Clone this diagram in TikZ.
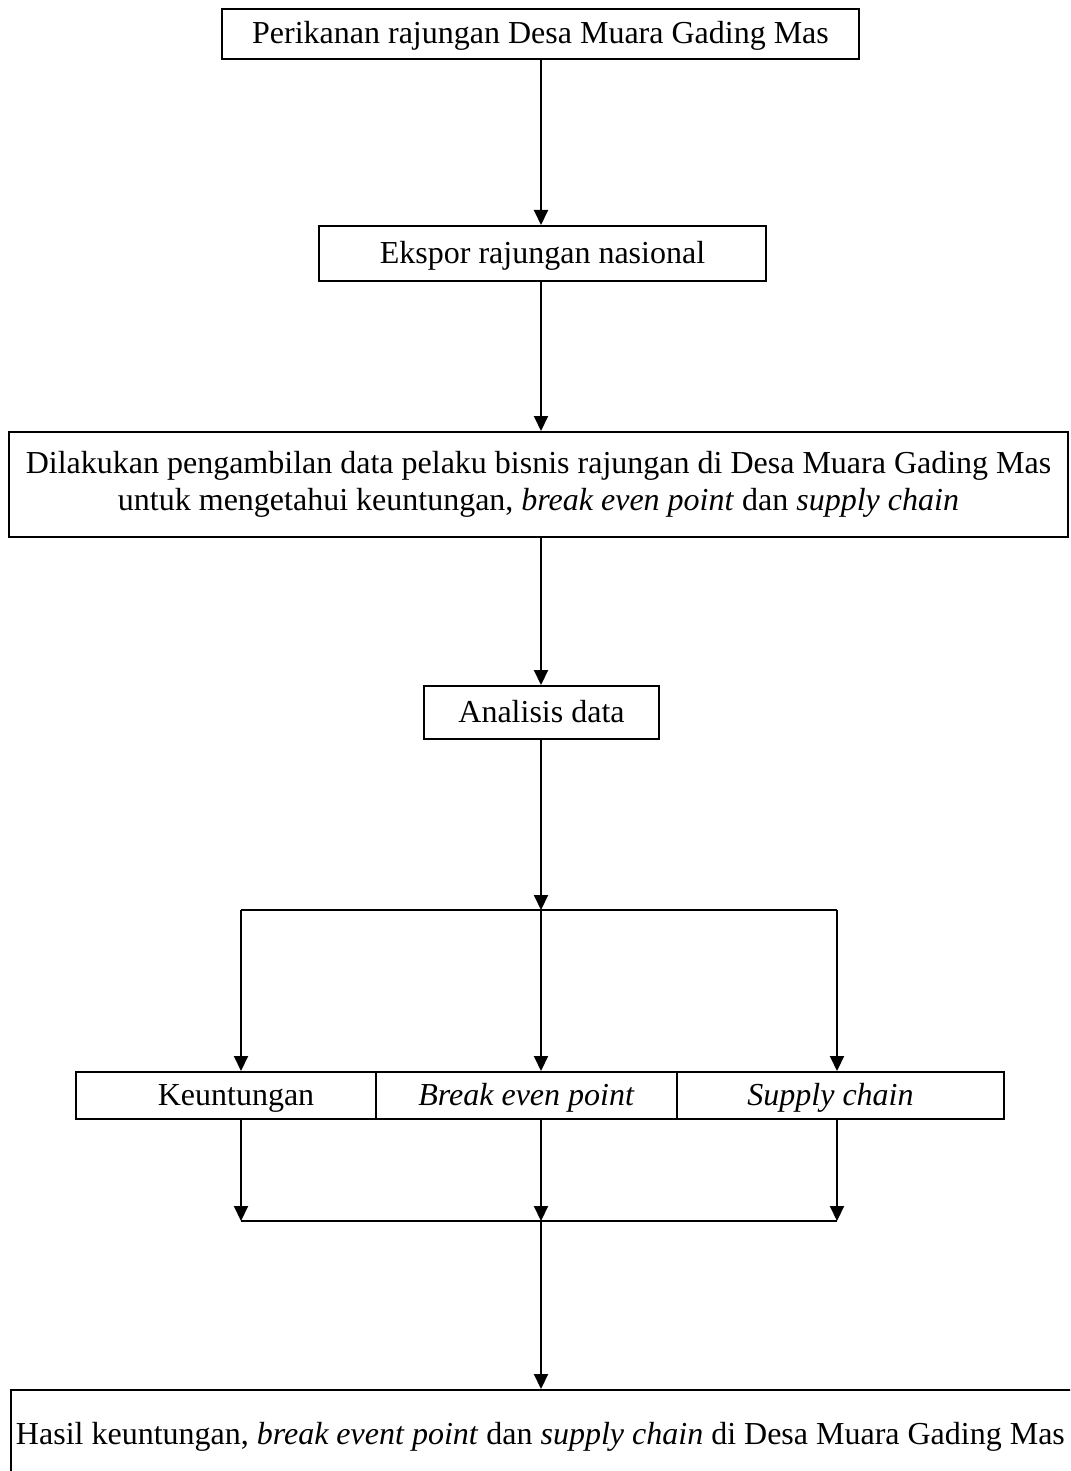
\documentclass[tikz,border=0pt]{standalone}
\usepackage{fontspec}
\setmainfont{Liberation Serif}
\usetikzlibrary{arrows.meta}
\tikzset{
  box/.style={draw, line width=2pt, inner sep=5pt, align=center},
  line box/.style={draw, line width=2pt, inner sep=5pt, text height=26pt, text depth=6pt},
  arr/.style={line width=2pt, -{Triangle[length=15pt,width=14pt]}},
  ln/.style={line width=2pt}
}
\begin{document}
\begin{tikzpicture}[x=1pt, y=-1pt, font=\fontsize{32}{37}\selectfont]
\clip (0,0) rectangle (1070,1471);
\node[line box, minimum width=637pt, minimum height=50pt] (perikanan) at (540.5,34) {Perikanan rajungan Desa Muara Gading Mas};
\node[line box, minimum width=447pt, minimum height=55pt] (ekspor) at (542.5,253.5) {Ekspor rajungan nasional};
\node[box, minimum width=1059pt, minimum height=105pt] (data) at (538.5,484.5) {Dilakukan pengambilan data pelaku bisnis rajungan di Desa Muara Gading Mas\\untuk mengetahui keuntungan, \textit{break even point} dan \textit{supply chain}};
\node[line box, minimum width=235pt, minimum height=53pt] (analisis) at (541.5,712.5) {Analisis data};
\node[line box, minimum width=300pt, minimum height=47pt] (untung) at (226,1095.5) {\hspace*{20pt}Keuntungan};
\node[line box, minimum width=301pt, minimum height=47pt] (bep) at (526.5,1095.5) {\textit{Break even point}};
\node[line box, minimum width=327pt, minimum height=47pt] (supply) at (840.5,1095.5) {\textit{Supply chain}\hspace*{20pt}};
\node[line box, anchor=north west, minimum width=1100pt, minimum height=88pt] (hasil) at (10,1389) {Hasil keuntungan, \textit{break event point} dan \textit{supply chain} di Desa Muara Gading Mas\hspace*{45pt}};
% jalur utama
\coordinate (spine) at (541,0);
\coordinate (cabang) at (541,910);
\coordinate (cabangL) at (241,910);
\coordinate (cabangR) at (837,910);
\coordinate (gabung) at (541,1221);
\coordinate (gabungL) at (241,1221);
\coordinate (gabungR) at (837,1221);
\draw[arr] (perikanan.south -| spine) -- (ekspor.north -| spine);
\draw[arr] (ekspor.south -| spine) -- (data.north -| spine);
\draw[arr] (data.south -| spine) -- (analisis.north -| spine);
\draw[arr] (analisis.south -| spine) -- (cabang);
\draw[ln] (cabangL) -- (cabangR);
\draw[arr] (cabangL) -- (untung.north -| cabangL);
\draw[arr] (cabang) -- (bep.north -| cabang);
\draw[arr] (cabangR) -- (supply.north -| cabangR);
\draw[arr] (untung.south -| gabungL) -- (gabungL);
\draw[arr] (bep.south -| gabung) -- (gabung);
\draw[arr] (supply.south -| gabungR) -- (gabungR);
\draw[ln] (gabungL) -- (gabungR);
\draw[arr] (gabung) -- (hasil.north -| gabung);
\end{tikzpicture}
\end{document}
